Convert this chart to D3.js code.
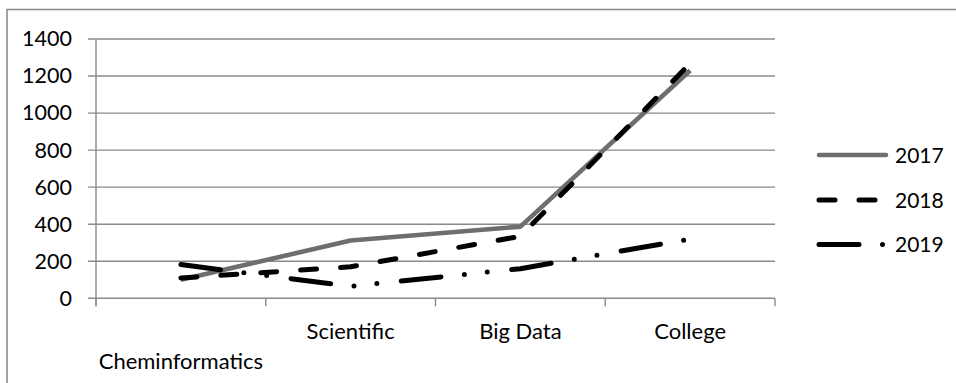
<!DOCTYPE html>
<html>
<head>
<meta charset="utf-8">
<script src="https://cdn.jsdelivr.net/npm/d3@7/dist/d3.min.js"></script>
<style>
  html, body { margin: 0; padding: 0; background: #fff; }
  svg { display: block; }
  text { font-family: Lato, "Open Sans", sans-serif; fill: #000; }
</style>
</head>
<body>
<script>
const categories = ["Cheminformatics", "Scientific", "Big Data", "College"];
const seriesNames = ["2017", "2018", "2019"];
const values2017 = [100, 312, 387, 1230];
const values2018 = [110, 170, 335, 1268];
const values2019 = [182, 65, 160, 320];
const yTicks = [0, 200, 400, 600, 800, 1000, 1200, 1400];

const W = 956, H = 383;
const margin = { left: 96, right: 181, top: 39, bottom: 84.7 };

const styles = {
  "2017": { color: "#6e6e6e", width: 4.6, dash: null },
  "2018": { color: "#000", width: 5, dash: "16,24" },
  "2019": { color: "#000", width: 5, dash: "40,23.5,0,23,0,24.5" }
};

const series = [
  { name: seriesNames[0], values: values2017 },
  { name: seriesNames[1], values: values2018 },
  { name: seriesNames[2], values: values2019 }
];

const svg = d3.select("body").append("svg").attr("width", W).attr("height", H);

// outer chart border (clipped by window)
svg.append("path")
  .attr("d", `M7,${H + 5}V9.5H${W + 5}`)
  .attr("fill", "none").attr("stroke", "#8a8a8a").attr("stroke-width", 1.6);

const x = d3.scaleBand().domain(categories).range([margin.left, W - margin.right]).paddingInner(0).paddingOuter(0);
const y = d3.scaleLinear().domain([0, 1400]).range([H - margin.bottom, margin.top]);

// gridlines
svg.append("g").selectAll("line").data(yTicks).join("line")
  .attr("x1", margin.left - 8).attr("x2", W - margin.right)
  .attr("y1", d => y(d)).attr("y2", d => y(d))
  .attr("stroke", "#8a8a8a").attr("stroke-width", 1.4);

// y axis
const yAxis = svg.append("g").attr("transform", `translate(${margin.left},0)`)
  .call(d3.axisLeft(y).tickValues(yTicks).tickSize(0).tickPadding(24).tickFormat(d3.format("d")));
yAxis.select(".domain").remove();
yAxis.selectAll("text").attr("font-size", 21.5).attr("font-family", "Lato, sans-serif").attr("fill", "#000");

svg.append("line")
  .attr("x1", margin.left).attr("x2", margin.left)
  .attr("y1", y(1400)).attr("y2", y(0) + 8)
  .attr("stroke", "#8a8a8a").attr("stroke-width", 1.4);

// x axis ticks (at band edges)
const edges = categories.map(c => x(c)).concat([x(categories[categories.length - 1]) + x.bandwidth()]);
svg.append("g").selectAll("line").data(edges).join("line")
  .attr("x1", d => d).attr("x2", d => d)
  .attr("y1", y(0)).attr("y2", y(0) + 8)
  .attr("stroke", "#8a8a8a").attr("stroke-width", 1.4);

// x labels (first staggered to second row)
svg.append("g").selectAll("text").data(categories).join("text")
  .attr("x", d => x(d) + x.bandwidth() / 2)
  .attr("y", (d, i) => i === 0 ? 368.5 : 339)
  .attr("text-anchor", "middle")
  .attr("font-size", 22)
  .text(d => d);

// lines
const line = d3.line()
  .x((d, i) => x(categories[i]) + x.bandwidth() / 2)
  .y(d => y(d));

svg.append("g").selectAll("path").data(series).join("path")
  .attr("d", d => line(d.values))
  .attr("fill", "none")
  .attr("stroke", d => styles[d.name].color)
  .attr("stroke-width", d => styles[d.name].width)
  .attr("stroke-dasharray", d => styles[d.name].dash)
  .attr("stroke-linecap", d => styles[d.name].dash ? "round" : "butt")
  .attr("stroke-linejoin", "round");

// legend
const legend = svg.append("g");
const ly = [155, 200, 244.5];
series.forEach((s, i) => {
  const st = styles[s.name];
  legend.append("line")
    .attr("x1", 819).attr("x2", 886)
    .attr("y1", ly[i]).attr("y2", ly[i])
    .attr("stroke", st.color).attr("stroke-width", st.width)
    .attr("stroke-dasharray", st.dash)
    .attr("stroke-linecap", "round");
  legend.append("text")
    .attr("x", 895).attr("y", ly[i]).attr("dy", "0.36em")
    .attr("font-size", 21)
    .text(s.name);
});
</script>
</body>
</html>
